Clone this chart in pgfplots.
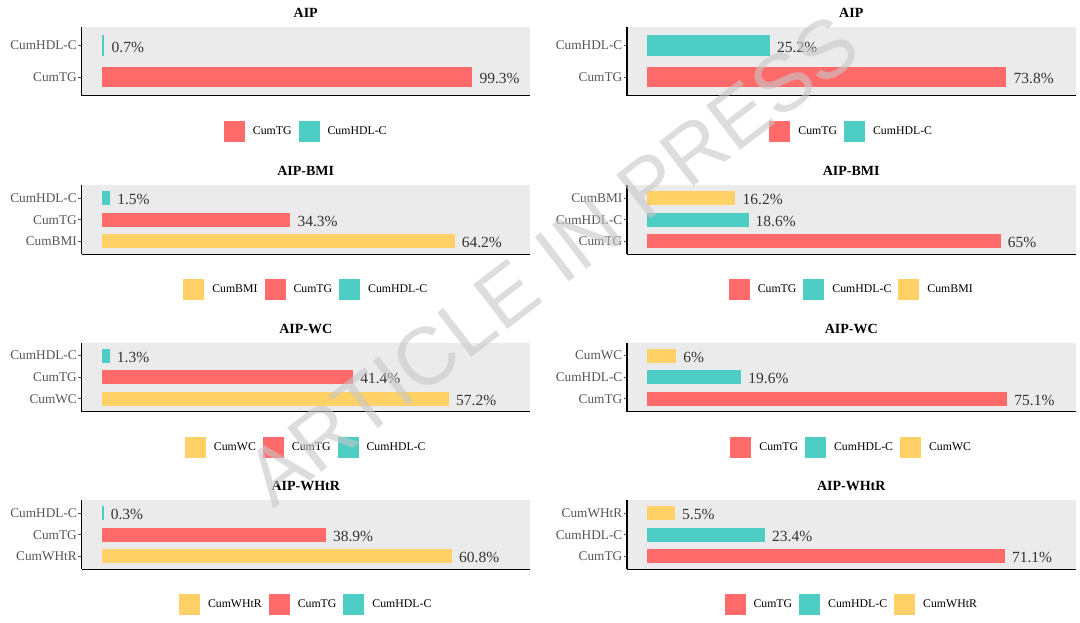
\documentclass[border=0pt]{standalone}
\usepackage{pgfplots}
\pgfplotsset{compat=1.18}
\usepackage{fontspec}
\setmainfont{Liberation Serif}
\newfontfamily\wmfont{Liberation Sans}
\definecolor{cred}{RGB}{255,107,107}
\definecolor{cteal}{RGB}{78,205,196}
\definecolor{cyel}{RGB}{255,209,102}
\definecolor{bg}{RGB}{235,235,235}
\definecolor{ticklab}{RGB}{85,85,85}
\definecolor{vallab}{RGB}{51,51,51}
\pgfplotsset{
 panel/.style={
  scale only axis, width=448.5pt, height=69pt,
  xbar, point meta=x,
  every axis plot post/.append style={bar shift=0pt, bar width=0.65,
    legend image code/.code={\fill[##1, draw=none] (0pt,-10.5pt) rectangle (21pt,10.5pt);}},
  axis background/.style={fill=bg},
  axis x line*=bottom, axis y line*=left,
  axis line style={-, line width=1.4pt, black},
  xtick=\empty,
  ytick style={draw=ticklab, line width=0.7pt},
  major tick length=3pt, tick align=outside,
  yticklabel style={font=\fontsize{13.3}{15}\selectfont, text=ticklab, inner sep=1.5pt},
  title style={font=\bfseries\fontsize{14}{16}\selectfont, at={(0.5,1)}, anchor=center, yshift=8pt},
  nodes near coords={\pgfmathprintnumber[assume math mode=true]{\pgfplotspointmeta}\%},
  every node near coord/.append style={font=\fontsize{15.5}{17}\selectfont, text=vallab, anchor=west, inner sep=0pt, xshift=7pt, yshift=-1.5pt},
  legend style={draw=none, fill=none, at={(0.5,-0.5145)}, anchor=center, legend columns=-1,
    font=\fontsize{11.8}{13}\selectfont,
    /tikz/every odd column/.append style={column sep=7pt},
    /tikz/every even column/.append style={column sep=6pt},
    nodes={inner sep=1pt}},
  clip=false,
 }
}
\begin{document}
\begin{tikzpicture}
\useasboundingbox (0,0) rectangle (1080pt,622pt);
% ---------------- left column ----------------
\begin{axis}[panel, at={(81.5pt,526.3pt)}, anchor=south west, title={AIP},
  xmin=-5.465, xmax=114.765, ymin=0.4, ymax=2.6, ytick={1,2}, yticklabels={CumTG,CumHDL-C}]
\addplot[fill=cred, draw=none] coordinates {(99.3,1)};
\addlegendentry{CumTG}
\addplot[fill=cteal, draw=none] coordinates {(0.7,2)};
\addlegendentry{CumHDL-C}
\end{axis}
\begin{axis}[panel, at={(81.5pt,367.7pt)}, anchor=south west, title={AIP-BMI},
  xmin=-3.71, xmax=77.91, ymin=0.4, ymax=3.6, ytick={1,2,3}, yticklabels={CumBMI,CumTG,CumHDL-C}]
\addplot[fill=cyel, draw=none] coordinates {(64.2,1)};
\addlegendentry{CumBMI}
\addplot[fill=cred, draw=none] coordinates {(34.3,2)};
\addlegendentry{CumTG}
\addplot[fill=cteal, draw=none] coordinates {(1.5,3)};
\addlegendentry{CumHDL-C}
\end{axis}
\begin{axis}[panel, at={(81.5pt,210.3pt)}, anchor=south west, title={AIP-WC},
  xmin=-3.36, xmax=70.56, ymin=0.4, ymax=3.6, ytick={1,2,3}, yticklabels={CumWC,CumTG,CumHDL-C}]
\addplot[fill=cyel, draw=none] coordinates {(57.2,1)};
\addlegendentry{CumWC}
\addplot[fill=cred, draw=none] coordinates {(41.4,2)};
\addlegendentry{CumTG}
\addplot[fill=cteal, draw=none] coordinates {(1.3,3)};
\addlegendentry{CumHDL-C}
\end{axis}
\begin{axis}[panel, at={(81.5pt,52.7pt)}, anchor=south west, title={AIP-WHtR},
  xmin=-3.54, xmax=74.34, ymin=0.4, ymax=3.6, ytick={1,2,3}, yticklabels={CumWHtR,CumTG,CumHDL-C}]
\addplot[fill=cyel, draw=none] coordinates {(60.8,1)};
\addlegendentry{CumWHtR}
\addplot[fill=cred, draw=none] coordinates {(38.9,2)};
\addlegendentry{CumTG}
\addplot[fill=cteal, draw=none] coordinates {(0.3,3)};
\addlegendentry{CumHDL-C}
\end{axis}
% ---------------- right column ----------------
\begin{axis}[panel, at={(627pt,526.3pt)}, anchor=south west, title={AIP},
  xmin=-4.19, xmax=87.99, ymin=0.4, ymax=2.6, ytick={1,2}, yticklabels={CumTG,CumHDL-C}]
\addplot[fill=cred, draw=none] coordinates {(73.8,1)};
\addlegendentry{CumTG}
\addplot[fill=cteal, draw=none] coordinates {(25.2,2)};
\addlegendentry{CumHDL-C}
\end{axis}
\begin{axis}[panel, at={(627pt,367.7pt)}, anchor=south west, title={AIP-BMI},
  xmin=-3.75, xmax=78.75, ymin=0.4, ymax=3.6, ytick={1,2,3}, yticklabels={CumTG,CumHDL-C,CumBMI}]
\addplot[fill=cred, draw=none] coordinates {(65,1)};
\addlegendentry{CumTG}
\addplot[fill=cteal, draw=none] coordinates {(18.6,2)};
\addlegendentry{CumHDL-C}
\addplot[fill=cyel, draw=none] coordinates {(16.2,3)};
\addlegendentry{CumBMI}
\end{axis}
\begin{axis}[panel, at={(627pt,210.3pt)}, anchor=south west, title={AIP-WC},
  xmin=-4.255, xmax=89.355, ymin=0.4, ymax=3.6, ytick={1,2,3}, yticklabels={CumTG,CumHDL-C,CumWC}]
\addplot[fill=cred, draw=none] coordinates {(75.1,1)};
\addlegendentry{CumTG}
\addplot[fill=cteal, draw=none] coordinates {(19.6,2)};
\addlegendentry{CumHDL-C}
\addplot[fill=cyel, draw=none] coordinates {(6,3)};
\addlegendentry{CumWC}
\end{axis}
\begin{axis}[panel, at={(627pt,52.7pt)}, anchor=south west, title={AIP-WHtR},
  xmin=-4.055, xmax=85.155, ymin=0.4, ymax=3.6, ytick={1,2,3}, yticklabels={CumTG,CumHDL-C,CumWHtR}]
\addplot[fill=cred, draw=none] coordinates {(71.1,1)};
\addlegendentry{CumTG}
\addplot[fill=cteal, draw=none] coordinates {(23.4,2)};
\addlegendentry{CumHDL-C}
\addplot[fill=cyel, draw=none] coordinates {(5.5,3)};
\addlegendentry{CumWHtR}
\end{axis}
% watermark
\node[rotate=37.5, font=\wmfont\fontsize{81.5}{82}\selectfont, text=black!22, opacity=0.6, inner sep=0pt]
  at (552pt,362pt) {ARTICLE IN PRESS};
\end{tikzpicture}
\end{document}
